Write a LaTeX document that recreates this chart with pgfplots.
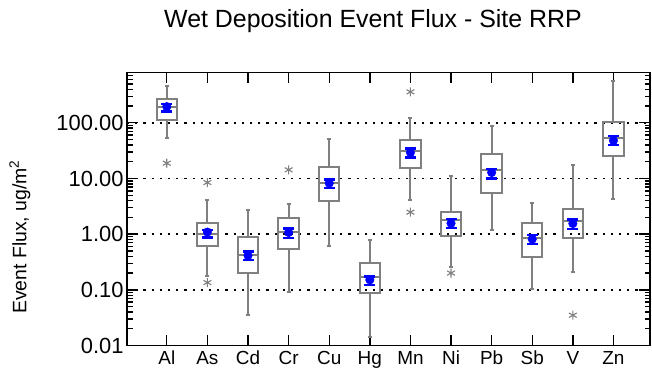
\documentclass[border=0pt]{standalone}
\usepackage{fontspec}
\setmainfont{Liberation Sans}
\usepackage{pgfplots}
\pgfplotsset{compat=1.18}
\definecolor{boxgray}{RGB}{128,128,128}
\pgfplotsset{
  bxl/.style={boxgray, line width=2bp, no marks, forget plot},
}
% #1 position, #2 lower whisker, #3 lower quartile, #4 median, #5 upper quartile, #6 upper whisker
\newcommand{\bxp}[6]{%
  \addplot[bxl, line join=miter, x filter/.expression={x+#1}] coordinates {(-0.25,#3) (0.25,#3) (0.25,#5) (-0.25,#5) (-0.25,#3) (0.25,#3)};
  \addplot[bxl, x filter/.expression={x+#1}] coordinates {(-0.25,#4) (0.25,#4)};
  \addplot[bxl, x filter/.expression={x+#1}] coordinates {(0,#3) (0,#2)};
  \addplot[bxl, x filter/.expression={x+#1}] coordinates {(-0.05,#2) (0.05,#2)};
  \addplot[bxl, x filter/.expression={x+#1}] coordinates {(0,#5) (0,#6)};
  \addplot[bxl, x filter/.expression={x+#1}] coordinates {(-0.05,#6) (0.05,#6)};
}
% #1 position, #2 lower limit, #3 upper limit
\newcommand{\ci}[3]{%
  \addplot[blue, line width=2.2bp, no marks, forget plot] coordinates {(#1,#2) (#1,#3)};
}
\begin{document}
\begin{tikzpicture}
\useasboundingbox (0bp,0bp) rectangle (652bp,376bp);
\begin{axis}[
  at={(127bp,30.5bp)}, anchor=south west,
  scale only axis, width=523bp, height=273bp,
  ymode=log, ymin=0.01, ymax=800,
  xmin=0.02, xmax=12.9,
  xtick={1,2,3,4,5,6,7,8,9,10,11,12},
  xticklabels={Al,As,Cd,Cr,Cu,Hg,Mn,Ni,Pb,Sb,V,Zn},
  ytick={0.01,0.1,1,10,100},
  yticklabels={0.01,0.10,1.00,10.00,100.00},
  minor ytick={0.02,0.03,0.04,0.05,0.06,0.07,0.08,0.09,
    0.2,0.3,0.4,0.5,0.6,0.7,0.8,0.9,
    2,3,4,5,6,7,8,9,20,30,40,50,60,70,80,90,
    200,300,400,500,600,700},
  tick align=inside,
  major tick length=11bp, minor tick length=5.5bp,
  axis line style={line width=1.8bp},
  every tick/.style={black, line width=1.4bp},
  ymajorgrids,
  major grid style={black, line width=1.6bp, dash pattern=on 2.2bp off 6bp},
  xticklabel style={font=\fontsize{19}{19}\selectfont, yshift=-2bp},
  yticklabel style={font=\fontsize{22}{22}\selectfont},
  clip=false,
]
\bxp{1}{53.5}{110}{195}{265}{460}
\bxp{2}{0.178}{0.60}{1.0}{1.61}{4.13}
\bxp{3}{0.0346}{0.20}{0.425}{0.88}{2.77}
\bxp{4}{0.091}{0.538}{1.09}{1.99}{3.5}
\bxp{5}{0.616}{3.91}{8.45}{16.4}{52}
\bxp{6}{0.0145}{0.086}{0.173}{0.30}{0.79}
\bxp{7}{4.13}{15.7}{31.3}{49.3}{124}
\bxp{8}{0.262}{0.944}{1.81}{2.55}{11}
\bxp{9}{1.19}{5.45}{14.3}{27.3}{89}
\bxp{10}{0.103}{0.386}{0.87}{1.61}{3.69}
\bxp{11}{0.213}{0.86}{1.73}{2.88}{17.3}
\bxp{12}{4.25}{25.1}{53}{104}{573}
% outliers
\addplot[only marks, mark=asterisk, mark size=4.5bp, mark options={boxgray, line width=1.1bp}]
coordinates {(1,18.8) (2,8.45) (2,0.135) (4,14.3) (7,359) (7,2.48) (8,0.20) (11,0.035)};
% mean confidence intervals
\ci{1}{159}{219}
\ci{2}{0.87}{1.19}
\ci{3}{0.341}{0.487}
\ci{4}{0.85}{1.26}
\ci{5}{6.7}{9.55}
\ci{6}{0.121}{0.173}
\ci{7}{23.7}{34.4}
\ci{8}{1.31}{1.86}
\ci{9}{9.96}{15.0}
\ci{10}{0.67}{0.97}
\ci{11}{1.23}{1.83}
\ci{12}{40.1}{58.2}
\addplot[only marks, mark=-, mark size=5.5bp, mark options={blue, line width=2.2bp}]
coordinates {(1,159) (1,219) (2,0.87) (2,1.19) (3,0.341) (3,0.487) (4,0.85) (4,1.26)
  (5,6.7) (5,9.55) (6,0.121) (6,0.173) (7,23.7) (7,34.4) (8,1.31) (8,1.86)
  (9,9.96) (9,15.0) (10,0.67) (10,0.97) (11,1.23) (11,1.83) (12,40.1) (12,58.2)};
% means
\addplot[only marks, mark=*, mark size=4.3bp, mark options={fill=blue, draw=blue}]
coordinates {(1,195) (2,1.09) (3,0.413) (4,1.07) (5,8.24) (6,0.151)
  (7,29.2) (8,1.57) (9,12.8) (10,0.813) (11,1.55) (12,47.9)};
\end{axis}
\node[anchor=base, font=\fontsize{25}{25}\selectfont, inner sep=0pt] at (373bp,348bp) {Wet Deposition Event Flux - Site RRP};
\node[rotate=90, font=\fontsize{19.5}{19.5}\selectfont, inner sep=0pt] at (20bp,139bp) {Event Flux, ug/m\textsuperscript{2}};
\end{tikzpicture}
\end{document}
